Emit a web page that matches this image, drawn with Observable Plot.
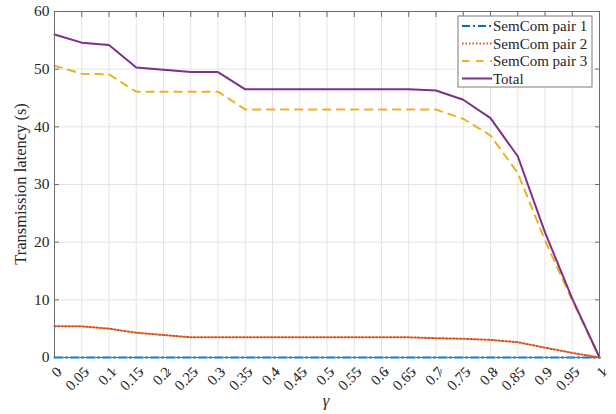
<!DOCTYPE html>
<html>
<head>
<meta charset="utf-8">
<script src="https://cdn.jsdelivr.net/npm/d3@7"></script>
<script src="https://cdn.jsdelivr.net/npm/@observablehq/plot@0.6"></script>
<style>
  html, body { margin: 0; padding: 0; background: #fff; }
  #chart { position: relative; width: 616px; height: 414px; }
  #chart svg, #chart svg text { font-family: "Liberation Serif", "Times New Roman", serif !important; }
</style>
</head>
<body>
<div id="chart"></div>
<script>
// γ values on the horizontal axis
const gamma = [0, 0.05, 0.1, 0.15, 0.2, 0.25, 0.3, 0.35, 0.4, 0.45, 0.5,
               0.55, 0.6, 0.65, 0.7, 0.75, 0.8, 0.85, 0.9, 0.95, 1];

// Transmission latency (s) of each SemCom pair and the total
const pair1 = [0, 0, 0, 0, 0, 0, 0, 0, 0, 0, 0, 0, 0, 0, 0, 0, 0, 0, 0, 0, 0];
const pair2 = [5.4, 5.4, 5.0, 4.3, 3.9, 3.5, 3.5, 3.5, 3.5, 3.5, 3.5,
               3.5, 3.5, 3.5, 3.35, 3.25, 3.05, 2.65, 1.7, 0.8, 0];
const pair3 = [50.6, 49.2, 49.1, 46.1, 46.1, 46.1, 46.1, 43.0, 43.0, 43.0, 43.0,
               43.0, 43.0, 43.0, 43.0, 41.4, 38.5, 32.0, 20.3, 9.9, 0];
const total = [56.0, 54.6, 54.2, 50.3, 49.9, 49.5, 49.5, 46.5, 46.5, 46.5, 46.5,
               46.5, 46.5, 46.5, 46.3, 44.7, 41.5, 34.9, 21.7, 10.2, 0];

const seriesNames = ["SemCom pair 1", "SemCom pair 2", "SemCom pair 3", "Total"];
const seriesValues = [pair1, pair2, pair3, total];

// Tick values
const xTicks = gamma;
const yTicks = [0, 10, 20, 30, 40, 50, 60];

// Line styles per series
const styles = {
  "SemCom pair 1": {stroke: "#0072BD", dash: "8,3,2,3"},
  "SemCom pair 2": {stroke: "#D95319", dash: "1.5,2"},
  "SemCom pair 3": {stroke: "#EDB120", dash: "7.5,6.5"},
  "Total":         {stroke: "#7E2F8E", dash: null}
};

const rows = seriesNames.map((name, i) => gamma.map((g, j) => ({series: name, gamma: g, value: seriesValues[i][j]})));

const fmt = d => String(+d.toFixed(2));
const axisColor = "#6e6e6e";
const serif = "Liberation Serif, Times New Roman, serif";

const lineMarks = rows.map(r => {
  const s = styles[r[0].series];
  return Plot.line(r, {x: "gamma", y: "value", stroke: s.stroke, strokeWidth: 2,
                       strokeDasharray: s.dash, strokeLinejoin: "round"});
});

const chart = Plot.plot({
  width: 616,
  height: 414,
  marginLeft: 54,
  marginRight: 17,
  marginTop: 11,
  marginBottom: 57,
  style: {fontFamily: serif, fontSize: "15px", color: "#262626", background: "#fff"},
  x: {domain: [0, 1]},
  y: {domain: [0, 60]},
  marks: [
    Plot.gridX(xTicks, {stroke: "#e3e3e3", strokeOpacity: 1}),
    Plot.gridY(yTicks, {stroke: "#e3e3e3", strokeOpacity: 1}),
    ...lineMarks,
    Plot.frame({stroke: axisColor}),
    Plot.axisX(xTicks, {anchor: "bottom", tickSize: -5, stroke: axisColor, tickPadding: 0,
                        tickRotate: -45, tickFormat: fmt, dx: 5, dy: 17, fontSize: 15,
                        fill: "#262626", label: null}),
    Plot.axisX(xTicks, {anchor: "top", tickSize: -5, stroke: axisColor, tickFormat: () => "", label: null}),
    Plot.axisY(yTicks, {anchor: "left", tickSize: -5, stroke: axisColor, tickPadding: 10,
                        fontSize: 15.5, fill: "#262626", label: null}),
    Plot.axisY(yTicks, {anchor: "right", tickSize: -5, stroke: axisColor, tickFormat: () => "", label: null})
  ]
});

document.getElementById("chart").appendChild(chart);

const svg = d3.select(chart);

// Axis titles
svg.append("text")
  .attr("transform", "translate(22,184) rotate(-90)")
  .attr("text-anchor", "middle")
  .attr("dominant-baseline", "middle")
  .attr("font-family", serif)
  .attr("font-size", 16.5)
  .attr("fill", "#262626")
  .text("Transmission latency (s)");

svg.append("text")
  .attr("x", 326)
  .attr("y", 406)
  .attr("text-anchor", "middle")
  .attr("font-family", serif)
  .attr("font-size", 16.5)
  .attr("font-style", "italic")
  .attr("fill", "#262626")
  .text("γ");

// Legend box in the upper right corner
const lg = svg.append("g").attr("transform", "translate(458,16)");
lg.append("rect").attr("width", 134).attr("height", 71)
  .attr("fill", "#fff").attr("stroke", "#7a7a7a").attr("stroke-width", 1);
seriesNames.forEach((name, i) => {
  const y = 10 + i * 17.5;
  const s = styles[name];
  lg.append("line").attr("x1", 4).attr("x2", 34).attr("y1", y).attr("y2", y)
    .attr("stroke", s.stroke).attr("stroke-width", 2)
    .attr("stroke-dasharray", s.dash);
  lg.append("text").attr("x", 35).attr("y", y).attr("dy", "0.35em")
    .attr("text-anchor", "start")
    .attr("font-family", serif)
    .attr("font-size", 15).attr("fill", "#262626").text(name);
});
</script>
</body>
</html>
